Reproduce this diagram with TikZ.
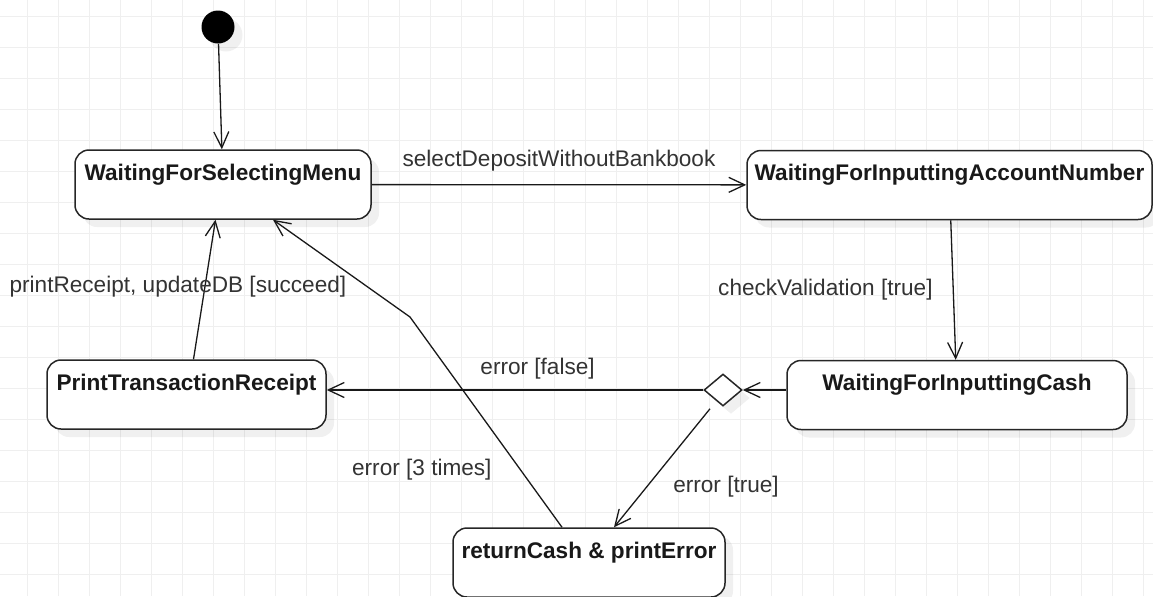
\documentclass[tikz,border=0pt]{standalone}
\usepackage{fontspec}
\setmainfont{Liberation Sans}
\usepackage{xcolor}
\definecolor{gridgray}{RGB}{239,239,239}
\definecolor{labelgray}{RGB}{51,51,51}
\usepackage{tikz}
\usetikzlibrary{shapes.geometric}
\usetikzlibrary{positioning}
\usetikzlibrary{arrows.meta}
\usetikzlibrary{shadows}

\tikzset{
  statebox/.style={draw=black!85,line width=0.75pt,fill=white,rounded corners=7pt,
    font=\fontsize{11.3}{13}\selectfont\bfseries,text=black!90,
    inner xsep=0pt,inner ysep=0pt,text height=15pt,text depth=19.5pt,
    drop shadow={shadow xshift=4pt,shadow yshift=-4pt,fill=black,opacity=0.06}},
  trans/.style={draw=black!90,line width=0.65pt,-{Straight Barb[length=8pt,width=7.5pt]}},
  trlabel/.style={font=\fontsize{11.3}{13}\selectfont,text=labelgray,inner sep=0pt,
    text height=8.3pt,text depth=2.4pt},
  gridline/.style={draw=gridgray,line width=0.5pt}
}

\begin{document}
\begin{tikzpicture}[x=0.5pt,y=-0.5pt]
\useasboundingbox (0,0) rectangle (1153,596);
\foreach \gx in {27,58,...,1143} \draw[gridline] (\gx,0) -- (\gx,596);
\foreach \gy in {16,47,...,574} \draw[gridline] (0,\gy) -- (1153,\gy);

\node (start) at (218,27) [circle,fill=black,minimum size=16.5pt,inner sep=0pt,
  drop shadow={shadow xshift=4pt,shadow yshift=-4pt,fill=black,opacity=0.06}] {};
\node (menu) at (223,184.5) [statebox,minimum width=148pt] {WaitingForSelectingMenu};
\node (acctnum) at (949.5,185) [statebox,minimum width=202.5pt] {WaitingForInputtingAccountNumber};
\node (cashin) at (957,395) [statebox,minimum width=170pt] {WaitingForInputtingCash};
\node (receipt) at (186.5,394.5) [statebox,minimum width=139.5pt] {PrintTransactionReceipt};
\node (retcash) at (589,562.5) [statebox,minimum width=136pt] {returnCash \& printError};
\node (choice) at (723,390) [diamond,draw=black!85,line width=0.75pt,fill=white,
  minimum width=19pt,minimum height=16pt,inner sep=0pt,
  drop shadow={shadow xshift=4pt,shadow yshift=-4pt,fill=black,opacity=0.06}] {};
\coordinate (bend) at (410,317);

\draw[trans] (start) -- (menu);
\draw[trans] (menu) -- node[trlabel,above=6.4pt]{selectDepositWithoutBankbook} (acctnum);
\draw[trans] (acctnum) -- node[trlabel,left=10pt]{checkValidation [true]} (cashin);
\draw[trans] (cashin.west |- choice.east) -- (choice.east);
\draw[trans] (choice.west) -- node[trlabel,pos=0.44,above=5pt]{error [false]} (receipt.east |- choice.west);
\draw[trans] ([xshift=-6.5pt,yshift=-1pt]choice.south) -- node[trlabel,pos=0.66,right=13pt]{error [true]} ([xshift=12.5pt]retcash.north);
\draw[trans] ([xshift=-13.5pt]retcash.north) -- node[trlabel,pos=0.275,left=14pt]{error [3 times]} (bend) -- ([xshift=25pt]menu.south);
\draw[trans] ([xshift=3.5pt]receipt.north) -- node[trlabel,pos=0.52,xshift=-13.5pt]{printReceipt, updateDB [succeed]} ([xshift=-3.75pt]menu.south);
\end{tikzpicture}
\end{document}
